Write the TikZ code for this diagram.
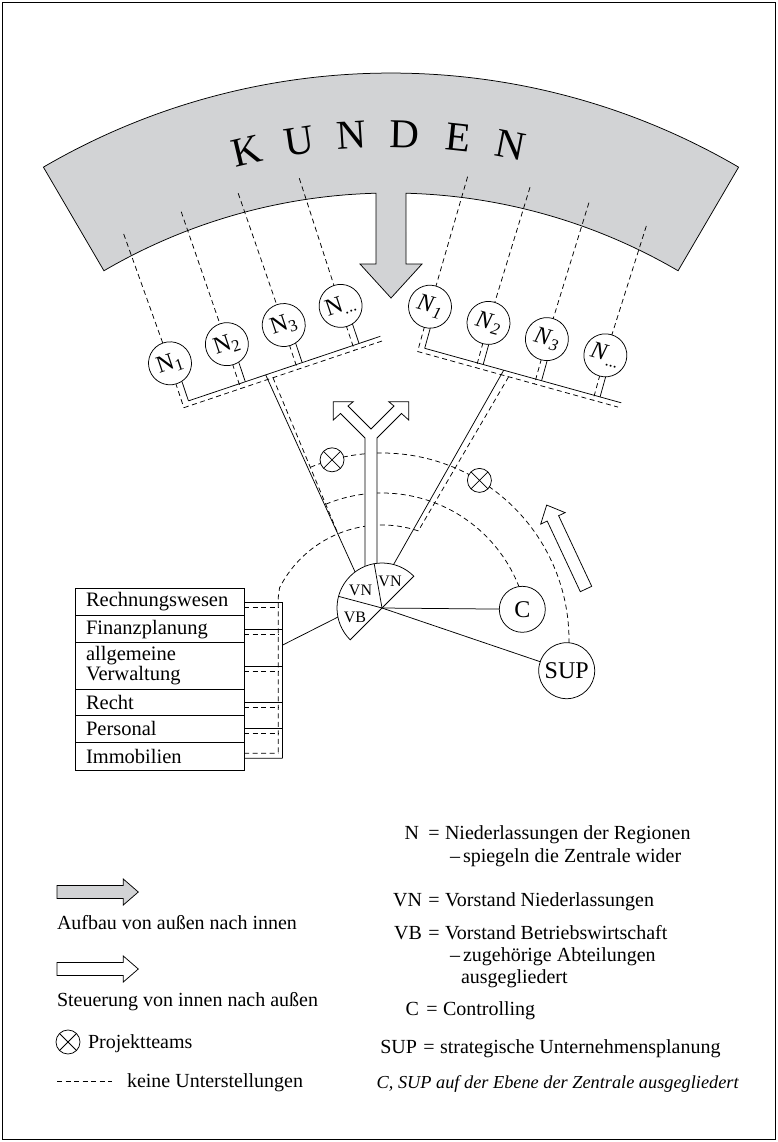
\documentclass[tikz,border=0pt]{standalone}
\usepackage{fontspec}
\setmainfont{Liberation Serif}
\usetikzlibrary{calc}
\definecolor{bandgray}{RGB}{210,211,213}
\begin{document}
\begin{tikzpicture}[x=1pt,y=1pt,line width=0.75pt,
  every node/.style={inner sep=0pt,outer sep=0pt},
  dsh/.style={dash pattern=on 5pt off 3.5pt},
  ncirc/.style={circle,draw,fill=white,minimum size=43pt,transform shape,font=\fontsize{24}{24}\selectfont},
  bigcirc/.style={circle,draw,fill=white,font=\fontsize{24}{24}\selectfont},
  xcirc/.style={circle,draw,fill=white,minimum size=24pt,
    path picture={\draw (path picture bounding box.north west) -- (path picture bounding box.south east)
                        (path picture bounding box.south west) -- (path picture bounding box.north east);}},
  kletter/.style={font=\fontsize{41}{41}\selectfont},
  wlabel/.style={font=\fontsize{16}{16}\selectfont},
  rowbox/.style={draw,anchor=north west,text width=147pt,inner xsep=11pt,align=left,
    font=\fontsize{20.5}{20}\selectfont},
  lgt/.style={anchor=base west,font=\fontsize{20}{24}\selectfont},
  lgk/.style={anchor=base east,font=\fontsize{20}{24}\selectfont},
  lge/.style={anchor=base,font=\fontsize{20}{24}\selectfont},
]
\useasboundingbox (0,0) rectangle (778,-1142);
\draw (2.5,-2.5) rectangle (775.5,-1139.5);

% ---------- customer band with inward arrow ----------
\coordinate (kc) at (391,-762);
\draw[fill=bandgray]
  ($(kc)+(120.3:689)$) arc[start angle=120.3,end angle=59.7,radius=689]
  -- ($(kc)+(59.7:569)$) arc[start angle=59.7,end angle=88.49,radius=569]
  -- (406,-264) -- (422,-264) -- (391,-298) -- (360,-264) -- (376,-264)
  -- ($(kc)+(91.51:569)$) arc[start angle=91.51,end angle=120.3,radius=569]
  -- cycle;
\foreach \ch/\a [count=\i] in {K/13.3,U/8.44,N/3.58,D/-1.28,E/-6.14,N/-11.0}
  \node[kletter,rotate=\a] (kunden\i) at ($(kc)+({90+\a}:628)$) {\ch};

% ---------- left group of branches ----------
\begin{scope}[shift={(170,-363.3)},rotate=18.6]
  \foreach \u in {0,60,120,180} {
    \draw (\u+5.5,-12) -- (\u+5.5,-41.5);
    \draw[dsh] (\u-1,-12) -- (\u-1,-46.5);
  }
  \draw (5.5,-41.5) -- (208,-41.5);
  \draw[dsh] (-1,-46.5) -- (208,-46.5);
  \coordinate (ltj) at (87,-41.5);
  \coordinate (ltjd) at (93,-46.5);
  \node[ncirc] (nl1) at (0,0) {N\textsubscript{1}};
  \node[ncirc] (nl2) at (60,0) {N\textsubscript{2}};
  \node[ncirc] (nl3) at (120,0) {N\textsubscript{3}};
  \node[ncirc] (nl4) at (180,0) {N\textsubscript{...}};
\end{scope}

% ---------- right group of branches ----------
\begin{scope}[shift={(430,-306.7)},rotate=-15.5]
  \foreach \u in {0,60.7,121.3,182} {
    \draw (\u+6,-12) -- (\u+6,-41.5);
    \draw[dsh] (\u,-12) -- (\u,-46.5);
  }
  \draw (6,-41.5) -- (210,-41.5);
  \draw[dsh] (0,-46.5) -- (208,-46.5);
  \coordinate (rtj) at (88,-41.5);
  \coordinate (rtjd) at (94.5,-46.5);
  \node[ncirc] (nr1) at (0,0) {\textit{N}\textsubscript{\textit{1}}};
  \node[ncirc] (nr2) at (60.7,0) {\textit{N}\textsubscript{\textit{2}}};
  \node[ncirc] (nr3) at (121.3,0) {\textit{N}\textsubscript{\textit{3}}};
  \node[ncirc] (nr4) at (182,0) {\textit{N}\textsubscript{\textit{...}}};
\end{scope}

% dashed links from the customer band to the branches
\coordinate (kl1) at (123.7,-234);
\coordinate (kl2) at (181.2,-211.7);
\coordinate (kl3) at (238.2,-193.3);
\coordinate (kl4) at (299.3,-178.3);
\coordinate (kr1) at (467.6,-176.7);
\coordinate (kr2) at (530,-187.3);
\coordinate (kr3) at (588.9,-202.7);
\coordinate (kr4) at (646.3,-226);
\foreach \i in {1,2,3,4} {
  \draw[dsh] (kl\i) -- (nl\i);
  \draw[dsh] (kr\i) -- (nr\i);
}

% ---------- dashed rings around the board ----------
\coordinate (ac) at (382,-640);
\coordinate (vc) at (382,-608);
\coordinate (a3r) at ($(ac)+(71.6:115)$);
\coordinate (a3l) at ($(ac)+(112.5:115)$);
\coordinate (dbus1) at (278.3,-597);
\coordinate (dbus2) at (278.3,-753.3);
\draw[dsh] ($(ac)+(112.5:187)$) arc[start angle=112.5,end angle=-1,radius=187];
\draw[dsh] ($(ac)+(112.5:147)$) arc[start angle=112.5,end angle=21,radius=147];
\draw[dsh] (a3r) arc[start angle=71.6,end angle=153,radius=115] -- (dbus1) -- (dbus2);

% trunks from the branch groups to the board
\coordinate (wl) at (355.1,-572);
\coordinate (wr) at (393.3,-565);
\draw (ltj) -- (wl);
\draw[dsh] (ltjd) -- (a3l);
\draw (rtj) -- (wr);
\draw[dsh] (rtjd) -- (a3r);

% ---------- departments of VB ----------
\node[rowbox,minimum height=27.4pt] (r1) at (75,-588.3) {Rechnungswesen};
\node[rowbox,minimum height=27pt] (r2) at (75,-615.7) {Finanzplanung};
\node[rowbox,minimum height=46.6pt] (r3) at (75,-642.7) {allgemeine\\Verwaltung};
\node[rowbox,minimum height=25.7pt] (r4) at (75,-689.3) {Recht};
\node[rowbox,minimum height=27.7pt] (r5) at (75,-715) {Personal};
\node[rowbox,minimum height=27.3pt] (r6) at (75,-742.7) {Immobilien};
\coordinate (bus1) at (282.7,-602);
\coordinate (bus2) at (282.7,-758.3);
\draw (bus1) -- (bus2);
\foreach \i in {1,...,5} {
  \draw (r\i.east) -- (r\i.east -| bus1);
  \draw[dsh] ([yshift=-5pt]r\i.east) -- ([yshift=-5pt]r\i.east -| dbus1);
}
\draw ([yshift=-2pt]r6.east) -- (bus2);
\draw[dsh] ([yshift=3pt]r6.east) -- (dbus2);
\coordinate (vbbus) at (282.7,-645);
\coordinate (vbw) at (341,-615.5);
\draw (vbbus) -- (vbw);

% ---------- outward fork arrow ----------
\draw[fill=white] (365,-572) -- (365,-438) -- (340.5,-413.5) -- (333.3,-420) -- (333.3,-401.7)
  -- (353.3,-401.7) -- (348,-406) -- (371,-429) -- (394,-406) -- (388.7,-401.7)
  -- (408.7,-401.7) -- (408.7,-420) -- (401.5,-413.5) -- (377,-438) -- (377,-572) -- cycle;

% ---------- board wedge ----------
\draw[fill=white] (vc) -- ($(vc)+(45:45)$) arc[start angle=45,end angle=225,radius=45] -- cycle;
\draw (vc) -- ($(vc)+(100:45)$);
\draw (vc) -- ($(vc)+(165:45)$);
\node[wlabel] (vn1) at (390,-581.7) {VN};
\node[wlabel] (vn2) at (360.5,-590.5) {VN};
\node[wlabel] (vb) at (355,-617) {VB};

% staff units
\node[bigcirc,minimum size=46pt] (C) at (522.3,-609.3) {C};
\node[bigcirc,minimum size=56pt] (SUP) at (566.7,-670.7) {SUP};
\draw (vc) -- (C);
\draw (vc) -- (SUP);

% project teams
\node[xcirc] (pt1) at ($(ac)+(105.5:187)$) {};
\node[xcirc] (pt2) at ($(ac)+(58.6:187)$) {};

% steering arrow
\draw[fill=white,shift={(586,-589)},rotate=115.1]
  (0,-6.3) -- (78,-6.3) -- (78,-13.5) -- (92.7,0) -- (78,13.5) -- (78,6.3) -- (0,6.3) -- cycle;

% ---------- legend, left ----------
\draw[fill=bandgray] (57,-885.5) -- (123.3,-885.5) -- (123.3,-879) -- (138.3,-892)
  -- (123.3,-905) -- (123.3,-898.5) -- (57,-898.5) -- cycle;
\node[lgt] (lg1) at (57,-929) {Aufbau von außen nach innen};
\draw[fill=white] (57,-962.5) -- (123.3,-962.5) -- (123.3,-956) -- (138.3,-969)
  -- (123.3,-982) -- (123.3,-975.5) -- (57,-975.5) -- cycle;
\node[lgt] (lg2) at (57,-1006) {Steuerung von innen nach außen};
\node[xcirc] (lgx) at (68,-1042) {};
\node[lgt] (lg3) at (88,-1048) {Projektteams};
\coordinate (lgd1) at (57,-1081);
\coordinate (lgd2) at (112,-1081);
\draw[dsh] (lgd1) -- (lgd2);
\node[lgt] (lg4) at (127,-1087) {keine Unterstellungen};

% ---------- legend, right ----------
\node[lgk] (kN) at (419,-839) {N};
\node[lge] (eN) at (434,-839) {=};
\node[lgt] (tN) at (445,-839) {Niederlassungen der Regionen};
\node[lgt] (tN2) at (450,-862) {–\hspace{3pt}spiegeln die Zentrale wider};
\node[lgk] (kVN) at (422,-906) {VN};
\node[lge] (eVN) at (434,-906) {=};
\node[lgt] (tVN) at (445,-906) {Vorstand Niederlassungen};
\node[lgk] (kVB) at (422,-939) {VB};
\node[lge] (eVB) at (434,-939) {=};
\node[lgt] (tVB) at (445,-939) {Vorstand Betriebswirtschaft};
\node[lgt] (tVB2) at (450,-961) {–\hspace{3pt}zugehörige Abteilungen};
\node[lgt] (tVB3) at (461,-983) {ausgegliedert};
\node[lgk] (kC) at (419,-1015) {C};
\node[lge] (eC) at (432,-1015) {=};
\node[lgt] (tC) at (443,-1015) {Controlling};
\node[lgk] (kSUP) at (417,-1053) {SUP};
\node[lge] (eSUP) at (429,-1053) {=};
\node[lgt] (tSUP) at (440,-1053) {strategische Unternehmensplanung};
\node[anchor=base west,font=\fontsize{18.3}{22}\selectfont\itshape] (note) at (376.7,-1088)
  {C, SUP auf der Ebene der Zentrale ausgegliedert};
\end{tikzpicture}
\end{document}
